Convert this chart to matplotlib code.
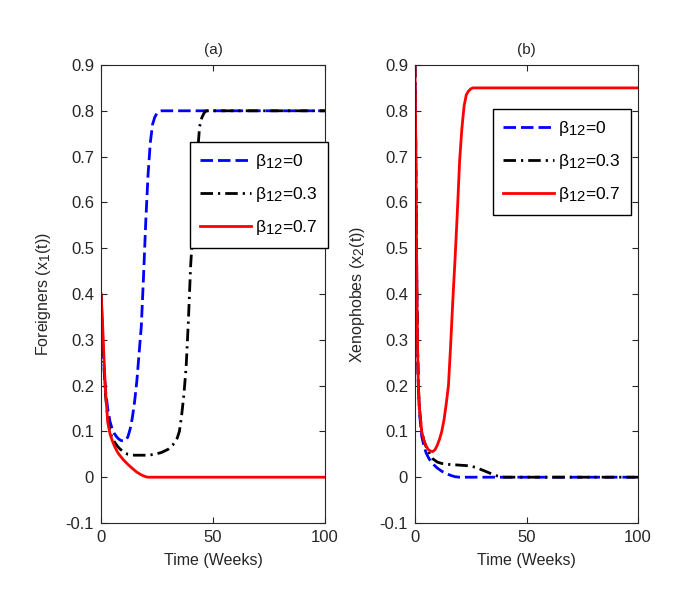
import matplotlib
matplotlib.use("Agg")
import matplotlib.pyplot as plt
import matplotlib._mathtext as mtext

# MATLAB draws subscripts almost full size
mtext.SHRINK_FACTOR = 0.85

plt.rcParams['font.family'] = ['Liberation Sans', 'DejaVu Sans']
plt.rcParams['mathtext.fontset'] = 'custom'
plt.rcParams['mathtext.rm'] = 'Liberation Sans'
plt.rcParams['mathtext.it'] = 'Liberation Sans'

labels = [r'$\mathrm{\beta}_{12}$=0', r'$\mathrm{\beta}_{12}$=0.3', r'$\mathrm{\beta}_{12}$=0.7']

# panel (a): foreigners x1(t)
t_a0 = [0, 0.5, 1, 2, 3, 4, 5, 6, 7, 8, 9, 10, 11, 12, 13, 14, 15, 16, 17, 18, 19, 20, 21, 22, 23, 24, 25, 26, 27, 100]
x1_b0 = [0.40, 0.33, 0.27, 0.19, 0.15, 0.122, 0.105, 0.095, 0.088, 0.083, 0.08, 0.079, 0.08, 0.088, 0.105, 0.13, 0.165,
         0.21, 0.27, 0.33, 0.44, 0.56, 0.66, 0.73, 0.77, 0.786, 0.795, 0.799, 0.8, 0.8]

t_a3 = [0, 0.5, 1, 2, 3, 4, 5, 6, 7, 8, 10, 12, 15, 18, 21, 24, 27, 30, 32, 34, 35, 36, 37, 38, 39, 40, 41, 42, 43, 44,
        45, 46, 47, 100]
x1_b3 = [0.40, 0.33, 0.27, 0.18, 0.13, 0.10, 0.085, 0.077, 0.07, 0.064, 0.055, 0.05, 0.048, 0.048, 0.048, 0.05, 0.054,
         0.061, 0.07, 0.085, 0.10, 0.135, 0.18, 0.24, 0.34, 0.46, 0.54, 0.62, 0.70, 0.765, 0.785, 0.795, 0.8, 0.8]

t_a7 = [0, 0.5, 1, 1.5, 2, 3, 4, 5, 6, 7, 8, 10, 12, 14, 16, 18, 20, 21, 22, 100]
x1_b7 = [0.40, 0.36, 0.30, 0.24, 0.19, 0.12, 0.095, 0.08, 0.068, 0.058, 0.05, 0.038, 0.028, 0.019, 0.011, 0.005, 0.001,
         0, 0, 0]

# panel (b): xenophobes x2(t)
t_b0 = [0, 0.3, 0.6, 0.9, 1.2, 1.5, 2, 3, 4, 5, 6, 7, 8, 10, 12, 14, 16, 18, 20, 100]
x2_b0 = [0.9, 0.75, 0.55, 0.38, 0.27, 0.2, 0.14, 0.09, 0.068, 0.053, 0.043, 0.035, 0.029, 0.02, 0.013, 0.008, 0.004,
         0.001, 0, 0]

t_b3 = [0, 0.3, 0.6, 0.9, 1.2, 1.5, 2, 3, 4, 5, 6, 7, 8, 10, 12, 15, 18, 21, 24, 26, 28, 30, 32, 34, 36, 38, 40, 100]
x2_b3 = [0.9, 0.75, 0.55, 0.38, 0.27, 0.2, 0.15, 0.1, 0.08, 0.066, 0.057, 0.047, 0.04, 0.033, 0.03, 0.028, 0.027,
         0.026, 0.025, 0.023, 0.02, 0.016, 0.012, 0.008, 0.004, 0.001, 0, 0]

t_b7 = [0, 0.3, 0.6, 0.9, 1.2, 1.5, 2, 3, 4, 5, 6, 7, 8, 9, 10, 11, 12, 13, 14, 15, 16, 17, 18, 19, 20, 21, 22, 23, 24,
        25, 26, 27, 100]
x2_b7 = [0.9, 0.75, 0.55, 0.38, 0.27, 0.2, 0.15, 0.10, 0.08, 0.068, 0.06, 0.057, 0.056, 0.06, 0.07, 0.083, 0.10, 0.125,
         0.16, 0.2, 0.29, 0.39, 0.48, 0.58, 0.69, 0.76, 0.81, 0.835, 0.843, 0.848, 0.85, 0.85, 0.85]

fig = plt.figure(figsize=(6.82, 5.98), dpi=100)
ax1 = fig.add_axes([101 / 682, 75 / 598, 224 / 682, 458 / 598])
ax2 = fig.add_axes([415 / 682, 75 / 598, 223 / 682, 458 / 598])

styles = [dict(color='#0000ff', linestyle=(0, (4.5, 1.8))),
          dict(color='black', linestyle=(0, (4.5, 1.8, 0.8, 1.8))),
          dict(color='#ff0000', linestyle='-')]

for ax, series, title, ylab in [
        (ax1, [(t_a0, x1_b0), (t_a3, x1_b3), (t_a7, x1_b7)], '(a)', r'Foreigners (x$_1$(t))'),
        (ax2, [(t_b0, x2_b0), (t_b3, x2_b3), (t_b7, x2_b7)], '(b)', r'Xenophobes (x$_2$(t))')]:
    for (t, v), st, lab in zip(series, styles, labels):
        ax.plot(t, v, linewidth=2, label=lab, **st)
    ax.set_xlim(0, 100)
    ax.set_ylim(-0.1, 0.9)
    ax.set_xticks([0, 50, 100])
    ax.set_yticks([-0.1, 0, 0.1, 0.2, 0.3, 0.4, 0.5, 0.6, 0.7, 0.8, 0.9])
    ax.set_yticklabels(['-0.1', '0', '0.1', '0.2', '0.3', '0.4', '0.5', '0.6', '0.7', '0.8', '0.9'])
    ax.tick_params(direction='in', top=True, right=True, length=4, labelsize=12, pad=5, colors='#262626',
                   labelcolor='#262626')
    for s in ax.spines.values():
        s.set_color('#262626')
    ax.set_title(title, fontsize=11, pad=8, color='#262626')
    ax.set_xlabel('Time (Weeks)', fontsize=11.5, color='#262626', labelpad=6)
    ax.set_ylabel(ylab, fontsize=11.5, color='#262626', labelpad=9)

leg_kw = dict(loc='upper right', fontsize=12.5, frameon=True, fancybox=False, edgecolor='black', framealpha=1,
              handlelength=2.9, borderpad=0.6, labelspacing=0.8, handletextpad=0.25, borderaxespad=0)
ax1.legend(bbox_to_anchor=(1.013, 0.832), **leg_kw)
ax2.legend(bbox_to_anchor=(0.969, 0.904), **leg_kw)

fig.savefig('out.png', dpi=100)
